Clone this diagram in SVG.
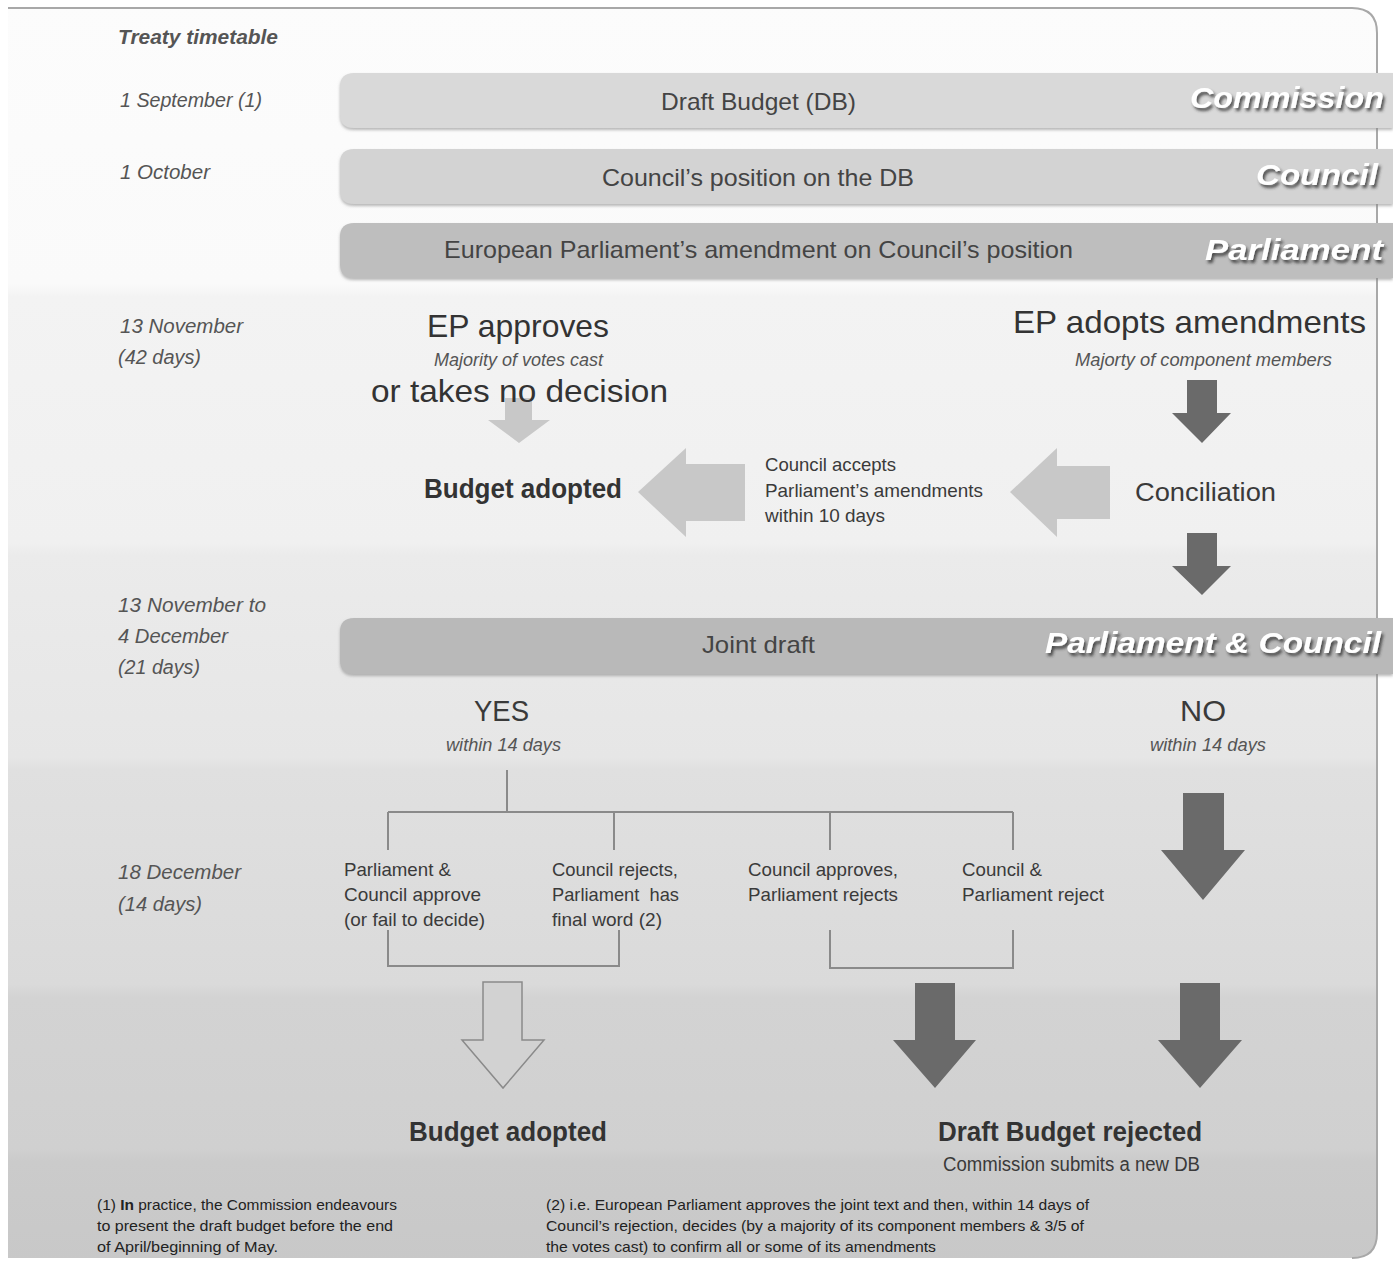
<svg xmlns="http://www.w3.org/2000/svg" width="1393" height="1262" viewBox="0 0 1393 1262">
<defs>
<style>
text{font-family:"Liberation Sans","DejaVu Sans",sans-serif;fill:#3a3a3a}
.date{font-style:italic;font-size:20px;fill:#555}
.bar{font-size:24px;fill:#444}
.role{font-size:30px;font-weight:bold;font-style:italic;fill:#fff;filter:url(#sh)}
.big{font-size:32px;fill:#333}
.sub{font-size:18px;font-style:italic;fill:#555}
.bold{font-size:27px;font-weight:bold;fill:#333}
.small{font-size:19px;fill:#3a3a3a}
.foot{font-size:15px;fill:#222}
.line{stroke:#8a8a8a;stroke-width:2;fill:none}
.dark{fill:#6a6a6a}
.light{fill:#c8c8c8}
</style>
<linearGradient id="bg" x1="0" y1="0" x2="0" y2="1262" gradientUnits="userSpaceOnUse">
<stop offset="0" stop-color="#fcfcfc"/>
<stop offset="0.225" stop-color="#fafafa"/>
<stop offset="0.235" stop-color="#f3f3f3"/>
<stop offset="0.43" stop-color="#f0f0f0"/>
<stop offset="0.44" stop-color="#ebebeb"/>
<stop offset="0.6" stop-color="#e6e6e6"/>
<stop offset="0.61" stop-color="#e0e0e0"/>
<stop offset="0.78" stop-color="#dadada"/>
<stop offset="0.79" stop-color="#d3d3d3"/>
<stop offset="0.91" stop-color="#d0d0d0"/>
<stop offset="0.92" stop-color="#cbcbcb"/>
<stop offset="1" stop-color="#c8c8c8"/>
</linearGradient>
<filter id="sh" x="-10%" y="-30%" width="120%" height="160%">
<feDropShadow dx="2" dy="3" stdDeviation="1.5" flood-color="#333" flood-opacity="0.8"/>
</filter>
<filter id="bs" x="-5%" y="-20%" width="110%" height="150%">
<feDropShadow dx="0" dy="2" stdDeviation="1.5" flood-color="#888" flood-opacity="0.6"/>
</filter>
</defs>

<rect width="1393" height="1262" fill="#ffffff"/>
<g id="panel">
<path d="M8,8 H1352 Q1377,8 1377,33 V1233 Q1377,1258 1352,1258 H8 Z" fill="url(#bg)"/>
<path d="M8,8 H1352 Q1377,8 1377,33 V1233 Q1377,1258 1352,1258" fill="none" stroke="#a8a8a8" stroke-width="2"/>
</g>

<g id="timetable">
<text class="date" x="118" y="44" font-weight="bold" textLength="160" lengthAdjust="spacingAndGlyphs">Treaty timetable</text>
<text class="date" x="120" y="107" textLength="142" lengthAdjust="spacingAndGlyphs">1 September (1)</text>
<text class="date" x="120" y="179" textLength="90" lengthAdjust="spacingAndGlyphs">1 October</text>
<text class="date" x="120" y="333" textLength="123" lengthAdjust="spacingAndGlyphs">13 November</text>
<text class="date" x="118" y="364" textLength="83" lengthAdjust="spacingAndGlyphs">(42 days)</text>
<text class="date" x="118" y="612" textLength="148" lengthAdjust="spacingAndGlyphs">13 November to</text>
<text class="date" x="118" y="643" textLength="110" lengthAdjust="spacingAndGlyphs">4 December</text>
<text class="date" x="118" y="674" textLength="82" lengthAdjust="spacingAndGlyphs">(21 days)</text>
<text class="date" x="118" y="879" textLength="123" lengthAdjust="spacingAndGlyphs">18 December</text>
<text class="date" x="118" y="911" textLength="84" lengthAdjust="spacingAndGlyphs">(14 days)</text>
</g>

<g id="bar-commission">
<path d="M354,73 H1393 V128 H354 Q340,128 340,114 V87 Q340,73 354,73 Z" fill="#d9d9d9" filter="url(#bs)"/>
<text class="bar" x="661" y="110" textLength="195" lengthAdjust="spacingAndGlyphs">Draft Budget (DB)</text>
<text class="role" x="1190" y="108" textLength="194" lengthAdjust="spacingAndGlyphs">Commission</text>
</g>
<g id="bar-council">
<path d="M354,149 H1393 V204 H354 Q340,204 340,190 V163 Q340,149 354,149 Z" fill="#d3d3d3" filter="url(#bs)"/>
<text class="bar" x="602" y="186" textLength="312" lengthAdjust="spacingAndGlyphs">Council’s position on the DB</text>
<text class="role" x="1256" y="185" textLength="122" lengthAdjust="spacingAndGlyphs">Council</text>
</g>
<g id="bar-parliament">
<path d="M354,223 H1393 V278 H354 Q340,278 340,264 V237 Q340,223 354,223 Z" fill="#bebebe" filter="url(#bs)"/>
<text class="bar" x="444" y="258" textLength="629" lengthAdjust="spacingAndGlyphs">European Parliament’s amendment on Council’s position</text>
<text class="role" x="1205" y="260" textLength="178" lengthAdjust="spacingAndGlyphs">Parliament</text>
</g>

<g id="connectors">
<path class="light" d="M505,398 H532 V420 H550 L519,443 L488,420 H505 Z"/>
<path class="light" d="M745,464 V521 H686 V537 L638,492 L686,448 V464 Z"/>
<path class="light" d="M1110,466 V519 H1057 V537 L1010,492 L1057,448 V466 Z"/>
<path class="dark" d="M1187,380 H1217 V413 H1231 L1202,443 L1172,413 H1187 Z"/>
<path class="dark" d="M1187,533 H1217 V566 H1231 L1202,595 L1172,566 H1187 Z"/>
<path class="dark" d="M1183,793 H1224 V850 H1245 L1203,900 L1161,850 H1183 Z"/>
<path class="line" d="M507,770 V812 M388,812 H1013 M388,812 V850 M614,812 V850 M830,812 V850 M1013,812 V850"/>
<path class="line" d="M388,930 V966 H619 V930 M830,930 V968 H1013 V930"/>
<path d="M483,982 H522 V1040 H544 L503,1088 L462,1040 H483 Z" fill="#d2d2d2" stroke="#8a8a8a" stroke-width="1.5"/>
<path class="dark" d="M915,983 H955 V1040 H976 L935,1088 L893,1040 H915 Z"/>
<path class="dark" d="M1180,983 H1220 V1040 H1242 L1200,1088 L1158,1040 H1180 Z"/>
</g>

<g id="ep-approves">
<text class="big" x="427" y="337" textLength="182" lengthAdjust="spacingAndGlyphs">EP approves</text>
<text class="sub" x="434" y="366" textLength="169" lengthAdjust="spacingAndGlyphs">Majority of votes cast</text>
<text class="big" x="371" y="402" textLength="297" lengthAdjust="spacingAndGlyphs">or takes no decision</text>
</g>
<g id="budget-adopted-1">
<text class="bold" x="424" y="498" textLength="198" lengthAdjust="spacingAndGlyphs">Budget adopted</text>
</g>
<g id="council-accepts">
<text class="small" x="765" y="471" textLength="131" lengthAdjust="spacingAndGlyphs">Council accepts</text>
<text class="small" x="765" y="497" textLength="218" lengthAdjust="spacingAndGlyphs">Parliament’s amendments</text>
<text class="small" x="765" y="522" textLength="120" lengthAdjust="spacingAndGlyphs">within 10 days</text>
</g>
<g id="ep-adopts">
<text class="big" x="1013" y="333" textLength="353" lengthAdjust="spacingAndGlyphs">EP adopts amendments</text>
<text class="sub" x="1075" y="366" textLength="257" lengthAdjust="spacingAndGlyphs">Majorty of component members</text>
</g>
<g id="conciliation">
<text x="1135" y="501" font-size="26" fill="#333" textLength="141" lengthAdjust="spacingAndGlyphs">Conciliation</text>
</g>

<g id="bar-joint">
<path d="M354,618 H1393 V674 H354 Q340,674 340,660 V632 Q340,618 354,618 Z" fill="#b9b9b9" filter="url(#bs)"/>
<text class="bar" x="702" y="653" textLength="113" lengthAdjust="spacingAndGlyphs">Joint draft</text>
<text class="role" x="1045" y="653" textLength="336" lengthAdjust="spacingAndGlyphs">Parliament &amp; Council</text>
</g>

<g id="yes">
<text x="474" y="721" font-size="30" fill="#333" textLength="55" lengthAdjust="spacingAndGlyphs">YES</text>
<text class="sub" x="446" y="751" font-size="17" textLength="115" lengthAdjust="spacingAndGlyphs">within 14 days</text>
</g>
<g id="no">
<text x="1180" y="721" font-size="30" fill="#333" textLength="46" lengthAdjust="spacingAndGlyphs">NO</text>
<text class="sub" x="1150" y="751" font-size="17" textLength="116" lengthAdjust="spacingAndGlyphs">within 14 days</text>
</g>

<g id="opt-1">
<text class="small" x="344" y="876" textLength="107" lengthAdjust="spacingAndGlyphs">Parliament &amp;</text>
<text class="small" x="344" y="901" textLength="137" lengthAdjust="spacingAndGlyphs">Council approve</text>
<text class="small" x="344" y="926" textLength="141" lengthAdjust="spacingAndGlyphs">(or fail to decide)</text>
</g>
<g id="opt-2">
<text class="small" x="552" y="876" textLength="126" lengthAdjust="spacingAndGlyphs">Council rejects,</text>
<text class="small" x="552" y="901" textLength="127" lengthAdjust="spacingAndGlyphs" xml:space="preserve">Parliament  has</text>
<text class="small" x="552" y="926" textLength="110" lengthAdjust="spacingAndGlyphs">final word (2)</text>
</g>
<g id="opt-3">
<text class="small" x="748" y="876" textLength="150" lengthAdjust="spacingAndGlyphs">Council approves,</text>
<text class="small" x="748" y="901" textLength="150" lengthAdjust="spacingAndGlyphs">Parliament rejects</text>
</g>
<g id="opt-4">
<text class="small" x="962" y="876" textLength="80" lengthAdjust="spacingAndGlyphs">Council &amp;</text>
<text class="small" x="962" y="901" textLength="142" lengthAdjust="spacingAndGlyphs">Parliament reject</text>
</g>

<g id="budget-adopted-2">
<text class="bold" x="409" y="1141" font-size="28" textLength="198" lengthAdjust="spacingAndGlyphs">Budget adopted</text>
</g>
<g id="draft-rejected">
<text class="bold" x="938" y="1141" font-size="28" textLength="264" lengthAdjust="spacingAndGlyphs">Draft Budget rejected</text>
<text x="943" y="1171" font-size="20" fill="#333" textLength="257" lengthAdjust="spacingAndGlyphs">Commission submits a new DB</text>
</g>

<g id="footnotes">
<text class="foot" x="97" y="1210" textLength="300" lengthAdjust="spacingAndGlyphs">(1) <tspan font-weight="bold">In</tspan> practice, the Commission endeavours</text>
<text class="foot" x="97" y="1231" textLength="296" lengthAdjust="spacingAndGlyphs">to present the draft budget before the end</text>
<text class="foot" x="97" y="1252" textLength="181" lengthAdjust="spacingAndGlyphs">of April/beginning of May.</text>
<text class="foot" x="546" y="1210" textLength="543" lengthAdjust="spacingAndGlyphs">(2) i.e. European Parliament approves the joint text and then, within 14 days of</text>
<text class="foot" x="546" y="1231" textLength="538" lengthAdjust="spacingAndGlyphs">Council’s rejection, decides (by a majority of its component members &amp; 3/5 of</text>
<text class="foot" x="546" y="1252" textLength="390" lengthAdjust="spacingAndGlyphs">the votes cast) to confirm all or some of its amendments</text>
</g>
</svg>
